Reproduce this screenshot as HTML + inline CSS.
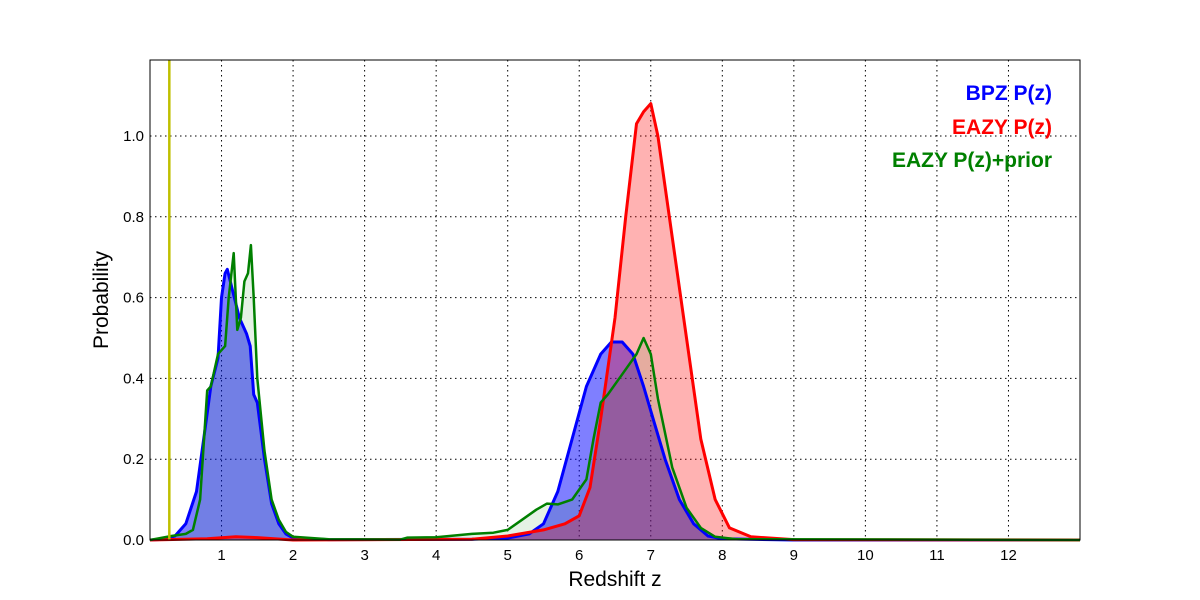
<!DOCTYPE html>
<html><head><meta charset="utf-8"><style>
body{margin:0;background:#fff;}
svg{display:block;font-family:"Liberation Sans","DejaVu Sans",sans-serif;}
</style></head><body>
<svg id="chart" width="1200" height="600" xmlns="http://www.w3.org/2000/svg">
<rect width="1200" height="600" fill="#fff"/>
<g id="grid"></g>
<g id="fills"></g>
<g id="lines"></g>
<g id="axes"></g>
<text x="1052" y="100" text-anchor="end" font-size="21" font-weight="bold" fill="#0000ff">BPZ P(z)</text>
<text x="1052" y="134" text-anchor="end" font-size="21" font-weight="bold" fill="#ff0000">EAZY P(z)</text>
<text x="1052" y="167" text-anchor="end" font-size="21" font-weight="bold" fill="#008000">EAZY P(z)+prior</text>
<text x="615" y="586" text-anchor="middle" font-size="21">Redshift z</text>
<text transform="translate(108,300) rotate(-90)" text-anchor="middle" font-size="21">Probability</text>
</svg>
<script>
const xTicks=[1,2,3,4,5,6,7,8,9,10,11,12];
const yTicks=[0.0,0.2,0.4,0.6,0.8,1.0];
const bpzZ=[0,0.2,0.35,0.5,0.65,0.75,0.85,0.95,1.0,1.05,1.08,1.15,1.25,1.35,1.4,1.45,1.5,1.6,1.7,1.8,1.9,2.0,2.5,4.5,5.0,5.3,5.5,5.7,5.9,6.1,6.3,6.45,6.6,6.75,6.9,7.05,7.2,7.4,7.6,7.8,8.0,9,13];
const bpzP=[0,0.002,0.01,0.04,0.12,0.25,0.38,0.45,0.6,0.66,0.67,0.62,0.55,0.51,0.48,0.36,0.34,0.2,0.09,0.04,0.015,0.005,0.001,0.002,0.005,0.015,0.04,0.12,0.25,0.38,0.46,0.49,0.49,0.46,0.38,0.29,0.2,0.1,0.04,0.01,0.003,0,0];
const eazyZ=[0,0.8,1.2,1.5,2,4.5,5.0,5.5,5.8,6.0,6.15,6.3,6.5,6.65,6.8,6.9,7.0,7.1,7.3,7.5,7.7,7.9,8.1,8.4,9,13];
const eazyP=[0,0.003,0.008,0.006,0,0.002,0.01,0.025,0.04,0.06,0.13,0.3,0.55,0.8,1.03,1.06,1.08,1.0,0.75,0.5,0.25,0.1,0.03,0.008,0.001,0];
const priorZ=[0,0.3,0.5,0.6,0.7,0.8,0.85,0.95,1.05,1.1,1.17,1.22,1.27,1.32,1.37,1.41,1.45,1.5,1.6,1.7,1.8,1.9,2.0,2.5,3.5,3.6,4,4.5,4.8,5.0,5.2,5.4,5.55,5.7,5.9,6.1,6.2,6.3,6.4,6.6,6.8,6.9,7.0,7.1,7.3,7.5,7.7,7.9,8.2,13];
const priorP=[0,0.01,0.015,0.025,0.1,0.37,0.38,0.46,0.48,0.6,0.71,0.52,0.55,0.64,0.66,0.73,0.6,0.4,0.22,0.1,0.05,0.02,0.008,0.002,0.001,0.006,0.007,0.015,0.018,0.025,0.05,0.075,0.09,0.088,0.1,0.15,0.25,0.34,0.36,0.41,0.46,0.5,0.46,0.35,0.18,0.08,0.03,0.008,0.002,0];
const zLine=0.27;
const X0=150,X1=1080,Y0=540,Y1=60,XMAX=13,YMAX=1.188;
const sx=v=>X0+(X1-X0)*v/XMAX, sy=v=>Y0-(Y0-Y1)*v/YMAX;
const NS='http://www.w3.org/2000/svg';
function mk(tag,parent,attrs){const e=document.createElementNS(NS,tag);for(const k in attrs)e.setAttribute(k,attrs[k]);document.getElementById(parent).appendChild(e);return e;}
xTicks.forEach(t=>{
 const g=mk('line','grid',{x1:sx(t),x2:sx(t),y1:Y1,y2:Y0,stroke:'#000','stroke-dasharray':'1.5,3.5','stroke-width':1});
 
 
 const l=mk('text','axes',{x:sx(t),y:Y0+20,'text-anchor':'middle','font-size':15});
 l.textContent=t;
 
 
});
yTicks.forEach(t=>{
 const g=mk('line','grid',{x1:X0,x2:X1,y1:sy(t),y2:sy(t),stroke:'#000','stroke-dasharray':'1.5,3.5','stroke-width':1});
 
 
 const l=mk('text','axes',{x:X0-6,y:sy(t)+5,'text-anchor':'end','font-size':15});
 l.textContent=t.toFixed(1);
 
 
});
function pts(zs,ps){return zs.map((z,i)=>sx(z).toFixed(1)+','+sy(ps[i]).toFixed(1)).join(' L');}
const series=[[bpzZ,bpzP,'#0000ff',0.5,'bpz'],[eazyZ,eazyP,'#ff0000',0.3,'eazy'],[priorZ,priorP,'#008000',0.1,'eazy-prior']];
series.forEach(s=>{
 const f=mk('path','fills',{d:'M'+sx(s[0][0])+','+Y0+' L'+pts(s[0],s[1])+' L'+sx(s[0][s[0].length-1])+','+Y0+' Z',fill:s[2],'fill-opacity':s[3]});
 
 
});
series.forEach(s=>{
 const l=mk('path','lines',{d:'M'+pts(s[0],s[1]),fill:'none',stroke:s[2],'stroke-width':s[4]==='eazy-prior'?2.5:3,'stroke-linejoin':'round'});
 
 
});
const yl=mk('line','lines',{x1:sx(zLine),x2:sx(zLine),y1:Y1,y2:Y0,stroke:'#bfbf00','stroke-width':2.5});


const fr=mk('rect','axes',{x:X0,y:Y1,width:X1-X0,height:Y0-Y1,fill:'none',stroke:'#000','stroke-width':1});


</script>
</body></html>
